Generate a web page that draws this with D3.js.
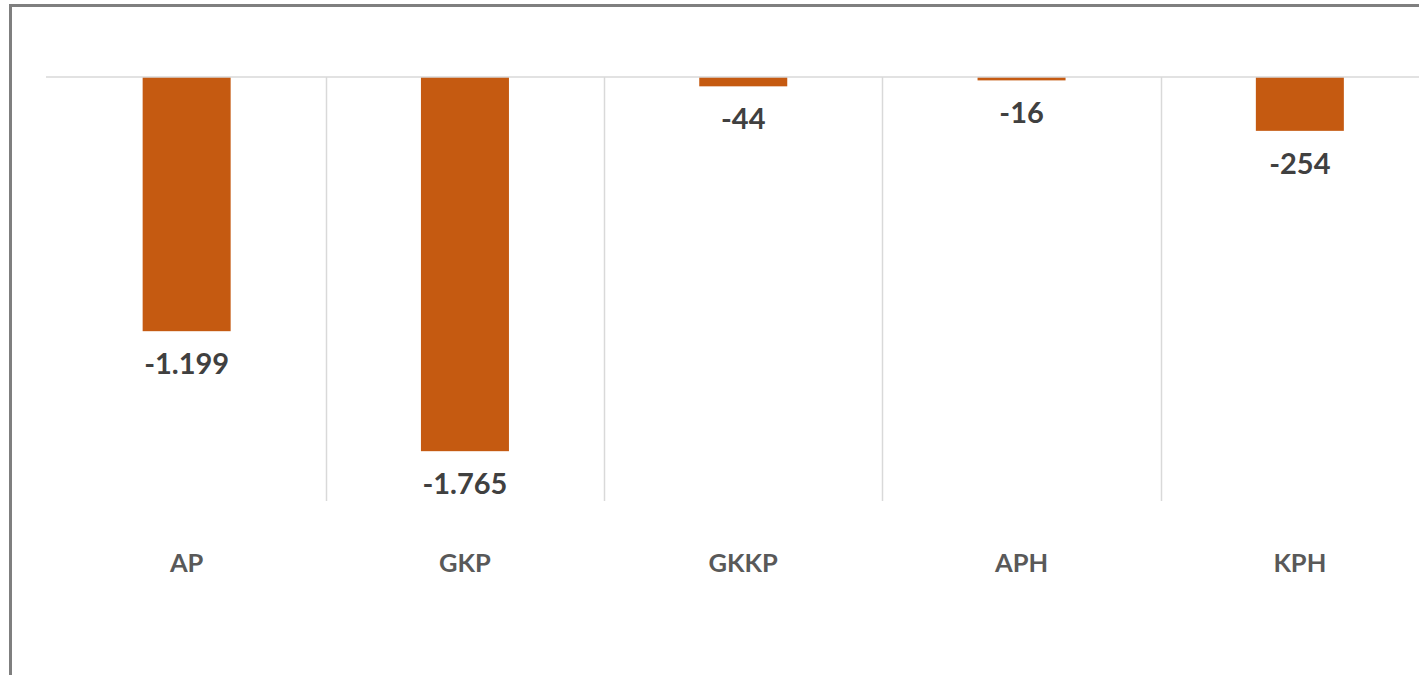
<!DOCTYPE html>
<html>
<head>
<meta charset="utf-8">
<script src="https://cdn.jsdelivr.net/npm/d3@7"></script>
<style>
  body { margin: 0; background: #fff; }
  svg { display: block; }
</style>
</head>
<body>
<svg id="chart" width="1419" height="675"></svg>
<script>
// data
var categories = ["AP", "GKP", "GKKP", "APH", "KPH"];
var values = [-1199, -1765, -44, -16, -254];
var labels = ["-1.199", "-1.765", "-44", "-16", "-254"];

var svg = d3.select('#chart');

// outer frame (only left and top visible in the crop)
svg.append('rect')
   .attr('x', 10.5).attr('y', 5.5)
   .attr('width', 1460).attr('height', 700)
   .attr('fill', '#fff')
   .attr('stroke', '#7f7f7f')
   .attr('stroke-width', 3);

var x = d3.scaleBand()
          .domain(categories)
          .range([47.5, 1439])
          .paddingInner(0)
          .paddingOuter(0);

var y = d3.scaleLinear()
          .domain([-2000, 0])
          .range([501, 77]);

// vertical separators between categories
svg.selectAll('line.grid')
   .data(categories.slice(1))
   .enter()
   .append('line')
   .attr('class', 'grid')
   .attr('x1', function(d) { return Math.round(x(d)) + 0.5; })
   .attr('x2', function(d) { return Math.round(x(d)) + 0.5; })
   .attr('y1', y(0))
   .attr('y2', y(-2000))
   .attr('stroke', '#d9d9d9')
   .attr('stroke-width', 1.5);

var barW = 88;

svg.selectAll('rect.bar')
   .data(values)
   .enter()
   .append('rect')
   .attr('class', 'bar')
   .attr('x', function(d, i) { return x(categories[i]) + x.bandwidth() / 2 - barW / 2; })
   .attr('y', y(0))
   .attr('width', barW)
   .attr('height', function(d) { return y(d) - y(0); })
   .attr('fill', '#c55a11');

// zero line
svg.append('line')
   .attr('x1', 46).attr('x2', 1419)
   .attr('y1', y(0)).attr('y2', y(0))
   .attr('stroke', '#d9d9d9')
   .attr('stroke-width', 1.5);

svg.selectAll('text.val')
   .data(values)
   .enter()
   .append('text')
   .attr('class', 'val')
   .attr('x', function(d, i) { return x(categories[i]) + x.bandwidth() / 2; })
   .attr('y', function(d) { return y(d) + 43; })
   .attr('text-anchor', 'middle')
   .style('font-family', 'Lato, sans-serif')
   .style('font-weight', 'bold')
   .style('font-size', '29px')
   .style('fill', '#404040')
   .text(function(d, i) { return labels[i]; });

svg.selectAll('text.cat')
   .data(categories)
   .enter()
   .append('text')
   .attr('class', 'cat')
   .attr('x', function(d) { return x(d) + x.bandwidth() / 2; })
   .attr('y', 572)
   .attr('text-anchor', 'middle')
   .style('font-family', 'Lato, sans-serif')
   .style('font-weight', 'bold')
   .style('font-size', '25.5px')
   .style('fill', '#595959')
   .text(function(d) { return d; });
</script>
</body>
</html>
